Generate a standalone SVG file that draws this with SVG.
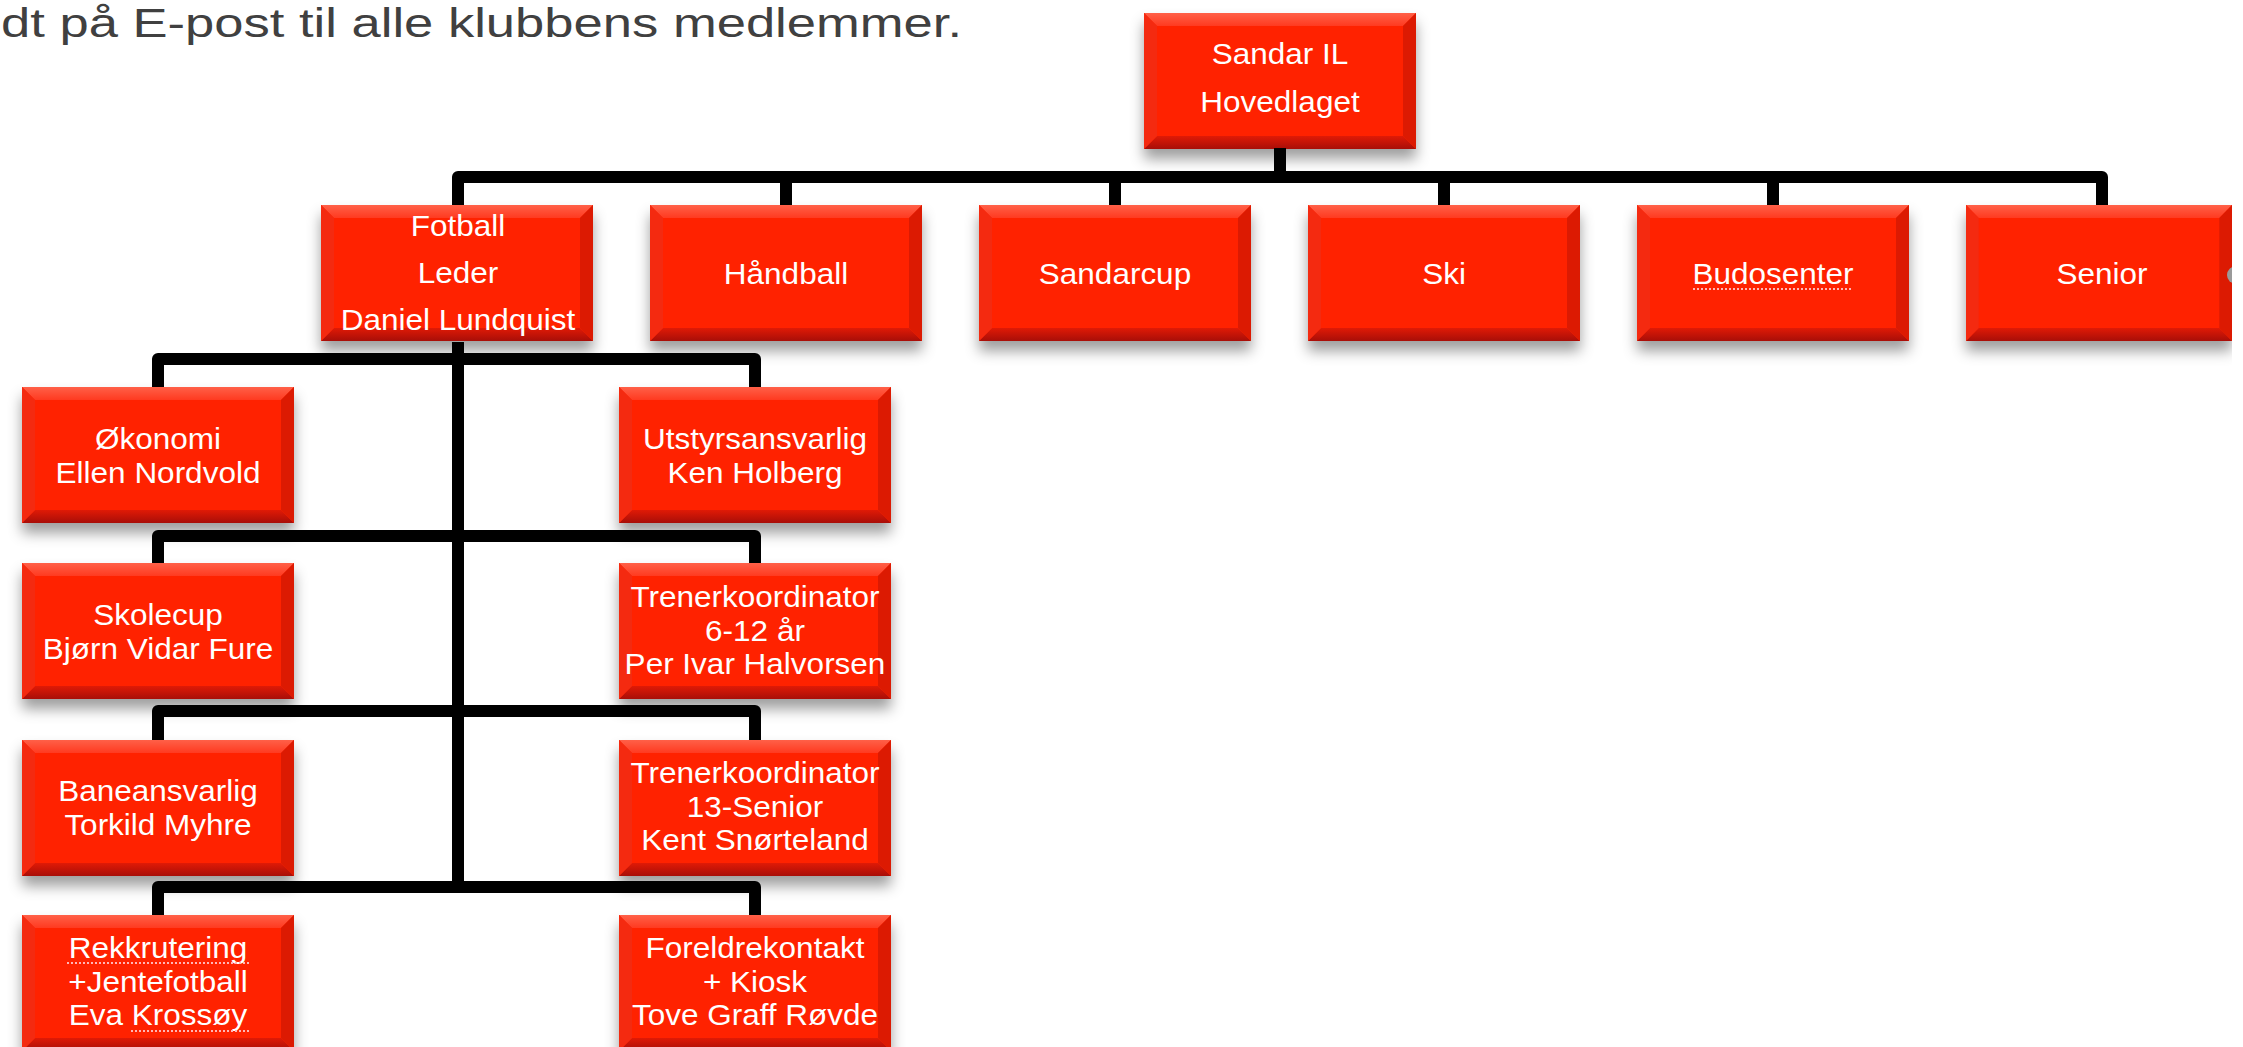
<svg xmlns="http://www.w3.org/2000/svg" xmlns:xlink="http://www.w3.org/1999/xlink" width="2243" height="1047" viewBox="0 0 2243 1047">
<style>
.t{font-family:"Liberation Sans",Arial,sans-serif;font-size:30px;fill:#ffffff;text-anchor:middle}
.hdr{font-family:"Liberation Sans",Arial,sans-serif;font-size:40px;fill:#404040}
.ln{fill:none;stroke:#000;stroke-width:12;stroke-linejoin:round;stroke-linecap:butt}
.sq{fill:none;stroke:#ffb6b6;stroke-width:2;stroke-dasharray:2 2}
</style>
<defs>
<filter id="sh" x="-10%" y="-10%" width="120%" height="140%">
<feDropShadow dx="0" dy="10" stdDeviation="7" flood-color="#000" flood-opacity="0.38"/>
</filter>
<linearGradient id="gTop" x1="0" y1="0" x2="0" y2="1">
<stop offset="0" stop-color="#ff6048"/><stop offset="1" stop-color="#ff3a20"/>
</linearGradient>
<linearGradient id="gBot" x1="0" y1="0" x2="0" y2="1">
<stop offset="0" stop-color="#e01a06"/><stop offset="1" stop-color="#a80e08"/>
</linearGradient>
<g id="box">
<rect width="272" height="136" fill="#ff2200" filter="url(#sh)"/>
<polygon points="0,0 272,0 259,13 13,13" fill="url(#gTop)"/>
<polygon points="0,136 272,136 259,123 13,123" fill="url(#gBot)"/>
<polygon points="0,0 13,13 13,123 0,136" fill="#f42a10"/>
<polygon points="272,0 259,13 259,123 272,136" fill="#dc1a02"/>
</g>
</defs>
<rect width="2243" height="1047" fill="#ffffff"/>
<text class="hdr" x="1" y="37" textLength="961" lengthAdjust="spacingAndGlyphs">dt på E-post til alle klubbens medlemmer.</text>

<g id="n-sandar"><use xlink:href="#box" transform="translate(1144,13)"/>
<text class="t" transform="translate(1280,64) scale(1.05,1)">Sandar IL</text>
<text class="t" transform="translate(1280,112) scale(1.05,1)">Hovedlaget</text></g>

<g id="n-fotball"><use xlink:href="#box" transform="translate(321,205)"/>
<text class="t" transform="translate(458,236) scale(1.05,1)">Fotball</text>
<text class="t" transform="translate(458,283) scale(1.05,1)">Leder</text>
<text class="t" transform="translate(458,330) scale(1.05,1)">Daniel Lundquist</text></g>

<g id="n-handball"><use xlink:href="#box" transform="translate(650,205)"/>
<text class="t" transform="translate(786,284) scale(1.05,1)">Håndball</text></g>

<g id="n-sandarcup"><use xlink:href="#box" transform="translate(979,205)"/>
<text class="t" transform="translate(1115,284) scale(1.05,1)">Sandarcup</text></g>

<g id="n-ski"><use xlink:href="#box" transform="translate(1308,205)"/>
<text class="t" transform="translate(1444,284) scale(1.05,1)">Ski</text></g>

<g id="n-budosenter"><use xlink:href="#box" transform="translate(1637,205)"/>
<text class="t" transform="translate(1773,284) scale(1.05,1)">Budosenter</text>
<path class="sq" d="M1693,289 H1853"/></g>

<g id="n-senior"><use xlink:href="#box" transform="translate(1966,205) scale(0.978,1)"/>
<text class="t" transform="translate(2102,284) scale(1.05,1)">Senior</text></g>

<g id="n-okonomi"><use xlink:href="#box" transform="translate(22,387)"/>
<text class="t" transform="translate(158,449) scale(1.05,1)">Økonomi</text>
<text class="t" transform="translate(158,483) scale(1.05,1)">Ellen Nordvold</text></g>

<g id="n-utstyr"><use xlink:href="#box" transform="translate(619,387)"/>
<text class="t" transform="translate(755,449) scale(1.05,1)">Utstyrsansvarlig</text>
<text class="t" transform="translate(755,483) scale(1.05,1)">Ken Holberg</text></g>

<g id="n-skolecup"><use xlink:href="#box" transform="translate(22,563)"/>
<text class="t" transform="translate(158,625) scale(1.05,1)">Skolecup</text>
<text class="t" transform="translate(158,659) scale(1.05,1)">Bjørn Vidar Fure</text></g>

<g id="n-trener1"><use xlink:href="#box" transform="translate(619,563)"/>
<text class="t" transform="translate(755,607) scale(1.05,1)">Trenerkoordinator</text>
<text class="t" transform="translate(755,641) scale(1.05,1)">6-12 år</text>
<text class="t" transform="translate(755,674) scale(1.05,1)">Per Ivar Halvorsen</text></g>

<g id="n-bane"><use xlink:href="#box" transform="translate(22,740)"/>
<text class="t" transform="translate(158,801) scale(1.05,1)">Baneansvarlig</text>
<text class="t" transform="translate(158,835) scale(1.05,1)">Torkild Myhre</text></g>

<g id="n-trener2"><use xlink:href="#box" transform="translate(619,740)"/>
<text class="t" transform="translate(755,783) scale(1.05,1)">Trenerkoordinator</text>
<text class="t" transform="translate(755,817) scale(1.05,1)">13-Senior</text>
<text class="t" transform="translate(755,850) scale(1.05,1)">Kent Snørteland</text></g>

<g id="n-rekk"><use xlink:href="#box" transform="translate(22,915)"/>
<text class="t" transform="translate(158,958) scale(1.05,1)">Rekkrutering</text>
<text class="t" transform="translate(158,992) scale(1.05,1)">+Jentefotball</text>
<text class="t" transform="translate(158,1025) scale(1.05,1)">Eva Krossøy</text>
<path class="sq" d="M67,963 H249 M131,1031 H249"/></g>

<g id="n-foreldre"><use xlink:href="#box" transform="translate(619,915)"/>
<text class="t" transform="translate(755,958) scale(1.05,1)">Foreldrekontakt</text>
<text class="t" transform="translate(755,992) scale(1.05,1)">+ Kiosk</text>
<text class="t" transform="translate(755,1025) scale(1.05,1)">Tove Graff Røvde</text></g>

<g id="connectors">
<path class="ln" d="M1280,148 V177"/>
<path class="ln" d="M458,205 V177 H2102 V205"/>
<path class="ln" d="M786,177 V205 M1115,177 V205 M1444,177 V205 M1773,177 V205"/>
<path class="ln" d="M458,342 V887"/>
<path class="ln" d="M158,387 V359 H755 V387"/>
<path class="ln" d="M158,563 V536 H755 V563"/>
<path class="ln" d="M158,740 V711 H755 V740"/>
<path class="ln" d="M158,915 V887 H755 V915"/>
</g>
<circle cx="2236" cy="275" r="9" fill="#9a9a9a"/>
<rect x="2232" y="0" width="11" height="1047" fill="#ffffff"/>
</svg>
